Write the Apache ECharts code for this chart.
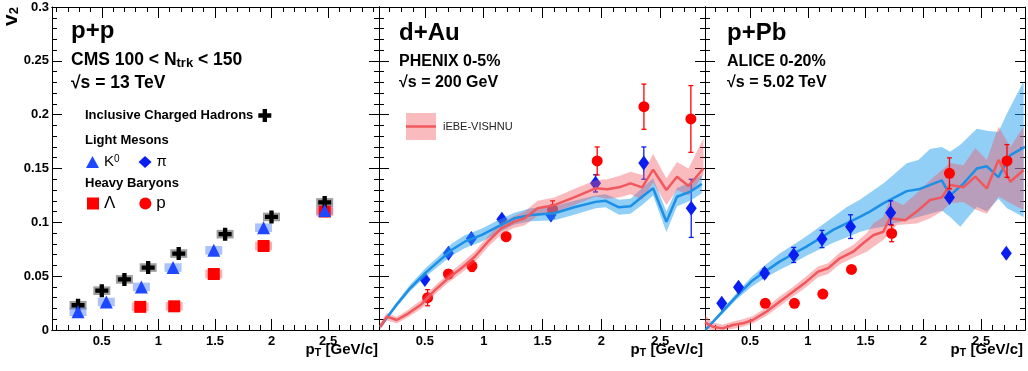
<!DOCTYPE html>
<html>
<head>
<meta charset="utf-8">
<script src="https://cdn.jsdelivr.net/npm/echarts@6/dist/echarts.min.js"></script>
<style>
  html, body { margin: 0; padding: 0; background: #fff; }
  #chart { width: 1028px; height: 371px; }
</style>
</head>
<body>
<div id="chart"></div>
<script>
// tick values for the pT axes
const xMajorTicks = [0.5, 1, 1.5, 2, 2.5];
const xMinorTicks = [0.1, 0.2, 0.3, 0.4, 0.6, 0.7, 0.8, 0.9, 1.1, 1.2, 1.3, 1.4,
                     1.6, 1.7, 1.8, 1.9, 2.1, 2.2, 2.3, 2.4, 2.6, 2.7, 2.8, 2.9];

// p+p, CMS 100 < Ntrk < 150
const ppHadPt = [0.29, 0.50, 0.70, 0.91, 1.18, 1.59, 2.00, 2.47];
const ppHadV  = [0.023, 0.0365, 0.047, 0.058, 0.071, 0.089, 0.105, 0.1185];
const ppK0Pt  = [0.29, 0.54, 0.85, 1.13, 1.49, 1.93, 2.47];
const ppK0V   = [0.017, 0.026, 0.040, 0.058, 0.074, 0.095, 0.111];
const ppLamPt = [0.84, 1.14, 1.49, 1.93, 2.47];
const ppLamV  = [0.0215, 0.022, 0.052, 0.078, 0.110];

// d+Au, PHENIX 0-5%
const dauPiPt  = [0.50, 0.70, 0.895, 1.154, 1.571, 1.95, 2.36, 2.763];
const dauPiV   = [0.047, 0.0712, 0.0851, 0.1028, 0.1068, 0.1362, 0.155, 0.113];
const dauPiErr = [0.002, 0.002, 0.002, 0.002, 0.003, 0.008, 0.015, 0.027];
const dauPPt   = [0.523, 0.70, 0.90, 1.19, 1.585, 1.964, 2.361, 2.76];
const dauPV    = [0.030, 0.052, 0.0594, 0.0867, 0.112, 0.157, 0.2074, 0.196];
const dauPErr  = [0.0075, 0.004, 0.005, 0.004, 0.008, 0.013, 0.021, 0.031];

// d+Au, iEBE-VISHNU pions
const dauModPiPt = [0.12, 0.247, 0.374, 0.50, 0.613, 0.726, 0.838, 0.98, 1.12, 1.261, 1.40, 1.60,
                    1.768, 1.95, 2.036, 2.149, 2.247, 2.346, 2.439, 2.552, 2.642, 2.755, 2.853];
const dauModPiV  = [0.003, 0.0217, 0.0387, 0.0526, 0.0635, 0.0743, 0.082, 0.0882, 0.096, 0.1037, 0.1068, 0.1084,
                    0.114, 0.119, 0.120, 0.114, 0.115, 0.1238, 0.1316, 0.1006, 0.1238, 0.1285, 0.1356];
const dauModPiLo = [0.002, 0.020, 0.036, 0.049, 0.059, 0.069, 0.076, 0.082, 0.090, 0.098, 0.101, 0.102,
                    0.107, 0.113, 0.114, 0.107, 0.108, 0.116, 0.125, 0.091, 0.115, 0.120, 0.127];
const dauModPiHi = [0.004, 0.024, 0.042, 0.057, 0.068, 0.080, 0.088, 0.094, 0.102, 0.109, 0.113, 0.115,
                    0.120, 0.125, 0.126, 0.121, 0.122, 0.132, 0.141, 0.110, 0.132, 0.137, 0.144];

// d+Au, iEBE-VISHNU protons
const dauModPPt = [0.12, 0.177, 0.261, 0.36, 0.472, 0.585, 0.697, 0.81, 0.923, 1.036, 1.149, 1.261, 1.346,
                   1.458, 1.60, 1.768, 1.95, 2.05, 2.149, 2.247, 2.346, 2.439, 2.552, 2.642, 2.74, 2.867];
const dauModPV  = [0.003, 0.0124, 0.0093, 0.0155, 0.024, 0.037, 0.048, 0.0573, 0.068, 0.082, 0.0944, 0.1006, 0.1037,
                   0.113, 0.116, 0.1232, 0.1316, 0.1307, 0.1325, 0.1362, 0.1325, 0.149, 0.130, 0.1424, 0.1337, 0.150];
const dauModPLo = [0.000, 0.009, 0.006, 0.012, 0.020, 0.033, 0.044, 0.053, 0.063, 0.077, 0.089, 0.095, 0.097,
                   0.106, 0.109, 0.116, 0.124, 0.122, 0.123, 0.126, 0.121, 0.137, 0.116, 0.130, 0.125, 0.144];
const dauModPHi = [0.006, 0.016, 0.012, 0.019, 0.028, 0.041, 0.052, 0.062, 0.073, 0.087, 0.100, 0.106, 0.110,
                   0.120, 0.123, 0.131, 0.139, 0.140, 0.143, 0.147, 0.144, 0.1635, 0.141, 0.156, 0.150, 0.178];

// p+Pb, ALICE 0-20%
const ppbPiPt  = [0.255, 0.40, 0.626, 0.878, 1.123, 1.37, 1.717, 2.226, 2.718];
const ppbPiV   = [0.0248, 0.0396, 0.0526, 0.0697, 0.0845, 0.096, 0.109, 0.123, 0.0712];
const ppbPiErr = [0, 0, 0.004, 0.007, 0.008, 0.011, 0.011, 0, 0];
const ppbPPt   = [0.632, 0.884, 1.13, 1.378, 1.726, 2.226, 2.724];
const ppbPV    = [0.0248, 0.0248, 0.0334, 0.0563, 0.0897, 0.1455, 0.157];
const ppbPErr  = [0, 0, 0, 0.003, 0.0077, 0.0144, 0.0152];

// p+Pb, iEBE-VISHNU pions
const ppbModPiPt = [0.114, 0.235, 0.38, 0.51, 0.626, 0.756, 0.872, 0.988, 1.103, 1.219, 1.335, 1.45,
                    1.537, 1.653, 1.856, 1.971, 2.16, 2.232, 2.347, 2.463, 2.55, 2.65, 2.753, 2.88];
const ppbModPiV  = [0.000, 0.014, 0.031, 0.045, 0.054, 0.0635, 0.0706, 0.0774, 0.085, 0.093, 0.099, 0.105,
                    0.110, 0.1176, 0.129, 0.131, 0.139, 0.125, 0.136, 0.150, 0.152, 0.142, 0.1625, 0.170];
const ppbBandPiPt = [0.114, 0.235, 0.38, 0.51, 0.626, 0.756, 0.872, 0.988, 1.103, 1.219, 1.335, 1.45, 1.55,
                     1.653, 1.74, 1.856, 1.957, 2.058, 2.16, 2.232, 2.32, 2.463, 2.55, 2.65, 2.724, 2.868];
const ppbBandPiLo = [0.000, 0.012, 0.028, 0.040, 0.048, 0.056, 0.062, 0.069, 0.075, 0.081, 0.086, 0.091, 0.094,
                     0.096, 0.099, 0.102, 0.105, 0.108, 0.111, 0.105, 0.096, 0.1145, 0.110, 0.122, 0.113, 0.105];
const ppbBandPiHi = [0.001, 0.016, 0.034, 0.049, 0.060, 0.071, 0.079, 0.087, 0.096, 0.105, 0.114, 0.121, 0.1285,
                     0.136, 0.144, 0.1548, 0.158, 0.168, 0.170, 0.1656, 0.172, 0.187, 0.185, 0.184, 0.201, 0.231];

// p+Pb, iEBE-VISHNU protons
const ppbModPPt = [0.11, 0.177, 0.264, 0.35, 0.437, 0.524, 0.64, 0.756, 0.872, 0.988, 1.089, 1.175, 1.277, 1.393, 1.479,
                   1.566, 1.653, 1.711, 1.841, 1.943, 2.058, 2.16, 2.232, 2.347, 2.449, 2.55, 2.651, 2.753, 2.868];
const ppbModPV  = [0.007, 0.003, 0.0015, 0.0046, 0.0062, 0.0093, 0.017, 0.0263, 0.0356, 0.0449, 0.0542, 0.0573, 0.0666, 0.0727, 0.0805,
                   0.088, 0.0913, 0.1037, 0.102, 0.110, 0.1207, 0.1232, 0.1347, 0.1325, 0.1424, 0.1316, 0.158, 0.1377, 0.1486];
const ppbBandPPt = [0.11, 0.177, 0.264, 0.35, 0.437, 0.524, 0.64, 0.756, 0.872, 0.988, 1.089, 1.175, 1.277, 1.393, 1.51,
                    1.566, 1.653, 1.711, 1.77, 1.826, 1.943, 2.058, 2.16, 2.232, 2.347, 2.449, 2.55, 2.651, 2.753, 2.868];
const ppbBandPLo = [0.001, 0.000, 0.000, 0.001, 0.003, 0.006, 0.013, 0.022, 0.031, 0.040, 0.049, 0.052, 0.061, 0.067, 0.0727,
                    0.077, 0.0836, 0.090, 0.0975, 0.098, 0.099, 0.1037, 0.110, 0.1177, 0.119, 0.112, 0.108, 0.124, 0.1177, 0.1115];
const ppbBandPHi = [0.014, 0.007, 0.005, 0.008, 0.010, 0.013, 0.021, 0.031, 0.040, 0.050, 0.059, 0.062, 0.072, 0.079, 0.090,
                    0.099, 0.105, 0.122, 0.119, 0.116, 0.127, 0.139, 0.1486, 0.155, 0.153, 0.169, 0.158, 0.189, 0.170, 0.189];

const FONT = '"Liberation Sans", Arial, Helvetica, sans-serif';
const RED = '#ff0000';
const BLUE = '#0a1ef2';
const TRI_BLUE = '#1d48ff';
const BAND_BLUE = 'rgba(35,160,240,0.5)';
const BAND_RED = 'rgba(242,85,95,0.4)';
const LINE_BLUE = '#1c8fe6';
const LINE_RED = '#f0585d';
const CROSS = 'path://M4,0H8V4H12V8H8V12H4V8H0V4H4Z';

const chart = echarts.init(document.getElementById('chart'), null, { renderer: 'canvas' });

const gridBoxes = [
  { left: 52, top: 7, width: 327, height: 323 },
  { left: 379, top: 7, width: 326, height: 323 },
  { left: 705, top: 7, width: 320, height: 323 }
];
const xRanges = [[0.06, 2.95], [0.11, 2.88], [0.11, 2.88]];

function xAxes(g) {
  const [min, max] = xRanges[g];
  const common = {
    type: 'value', gridIndex: g, min, max, splitLine: { show: false },
    axisLine: { show: true, onZero: false, lineStyle: { color: '#000', width: 1 } }
  };
  const tick = (vals, len) => ({
    show: true, inside: true, length: len,
    customValues: vals.filter(v => v > min && v < max),
    lineStyle: { color: '#000', width: 1 }
  });
  return [
    Object.assign({}, common, {
      position: 'bottom', axisTick: tick(xMajorTicks, 11),
      axisLabel: { show: true, customValues: xMajorTicks, margin: 5, color: '#000',
                   fontFamily: FONT, fontWeight: 'bold', fontSize: 13 }
    }),
    Object.assign({}, common, { position: 'bottom', axisTick: tick(xMinorTicks, 5), axisLabel: { show: false } }),
    Object.assign({}, common, { position: 'top', axisTick: tick(xMajorTicks, 11), axisLabel: { show: false } }),
    Object.assign({}, common, { position: 'top', axisTick: tick(xMinorTicks, 5), axisLabel: { show: false } })
  ];
}

function yAxes(g) {
  const common = {
    type: 'value', gridIndex: g, min: 0, max: 0.3, interval: 0.05, splitLine: { show: false },
    axisLine: { show: true, onZero: false, lineStyle: { color: '#000', width: 1 } },
    axisTick: { show: true, inside: true, length: 10, lineStyle: { color: '#000' } },
    minorTick: { show: true, splitNumber: 5, length: 5, lineStyle: { color: '#000' } }
  };
  return [
    Object.assign({}, common, {
      position: 'left',
      axisLabel: { show: g === 0, margin: 3, color: '#000', fontFamily: FONT, fontWeight: 'bold', fontSize: 13 }
    }),
    Object.assign({}, common, { position: 'right', axisLabel: { show: false } })
  ];
}

function pairs(xs, ys) { return xs.map((x, i) => [x, ys[i]]); }

function scatter(name, xs, ys, symbol, size, color, g, z) {
  return {
    type: 'scatter', name, xAxisIndex: 4 * g, yAxisIndex: 2 * g, data: pairs(xs, ys),
    symbol, symbolSize: size, itemStyle: { color, opacity: 1 }, z, silent: true
  };
}

function errRender(params, api) {
  const x = api.value(0), lo = api.value(1), hi = api.value(2);
  if (!(hi > lo)) return null;
  const a = api.coord([x, hi]), b = api.coord([x, lo]);
  const st = { stroke: api.visual('color'), lineWidth: 1.3 };
  return {
    type: 'group', children: [
      { type: 'line', shape: { x1: a[0], y1: a[1], x2: b[0], y2: b[1] }, style: st },
      { type: 'line', shape: { x1: a[0] - 2.5, y1: a[1], x2: a[0] + 2.5, y2: a[1] }, style: st },
      { type: 'line', shape: { x1: b[0] - 2.5, y1: b[1], x2: b[0] + 2.5, y2: b[1] }, style: st }
    ]
  };
}

function errors(name, xs, ys, es, color, g, z) {
  return {
    type: 'custom', name: name + ' stat', xAxisIndex: 4 * g, yAxisIndex: 2 * g,
    data: xs.map((x, i) => [x, ys[i] - es[i], ys[i] + es[i]]),
    encode: { x: 0, y: [1, 2] }, renderItem: errRender, itemStyle: { color }, z, silent: true
  };
}

function sysBoxes(name, xs, ys, color, z) {
  const dx = 0.075, dy = 0.004;
  return {
    type: 'custom', name: name + ' sys', xAxisIndex: 0, yAxisIndex: 0, data: pairs(xs, ys),
    encode: { x: 0, y: 1 }, itemStyle: { color }, z, silent: true,
    renderItem: (params, api) => {
      const a = api.coord([api.value(0) - dx, api.value(1) + dy]);
      const b = api.coord([api.value(0) + dx, api.value(1) - dy]);
      return { type: 'rect', shape: { x: a[0], y: a[1], width: b[0] - a[0], height: b[1] - a[1] },
               style: { fill: api.visual('color') } };
    }
  };
}

// model uncertainty band: one polygon, upper edge forward then lower edge back
function band(id, xs, lo, hi, color, g, z) {
  return {
    type: 'custom', name: id, xAxisIndex: 4 * g, yAxisIndex: 2 * g,
    data: xs.map((x, i) => [x, lo[i], hi[i]]), encode: { x: 0, y: [1, 2] },
    itemStyle: { color }, z, silent: true, clip: true,
    renderItem: (params, api) => {
      if (params.dataIndex !== 0) return null;
      const up = xs.map((x, i) => api.coord([x, hi[i]]));
      const dn = xs.map((x, i) => api.coord([x, lo[i]])).reverse();
      return { type: 'polygon', shape: { points: up.concat(dn) }, style: { fill: api.visual('color') } };
    }
  };
}

function model(id, xs, ys, color, g, z) {
  return { type: 'line', name: id, xAxisIndex: 4 * g, yAxisIndex: 2 * g, data: pairs(xs, ys),
           symbol: 'none', lineStyle: { color, width: 2.5 }, z, silent: true };
}

const series = [
  // p+p
  sysBoxes('hadrons', ppHadPt, ppHadV, 'rgba(80,80,80,0.55)', 1),
  sysBoxes('K0', ppK0Pt, ppK0V, 'rgba(70,120,240,0.45)', 1),
  sysBoxes('Lambda', ppLamPt, ppLamV, 'rgba(255,60,60,0.4)', 1),
  scatter('Λ', ppLamPt, ppLamV, 'rect', 12, RED, 0, 2),
  scatter('Inclusive Charged Hadrons', ppHadPt, ppHadV, CROSS, 13, '#000', 0, 2),
  scatter('K0', ppK0Pt, ppK0V, 'triangle', 13, TRI_BLUE, 0, 2),
  // d+Au: points below the model bands
  errors('π dAu', dauPiPt, dauPiV, dauPiErr, BLUE, 1, 1),
  scatter('π', dauPiPt, dauPiV, 'diamond', [11, 15], BLUE, 1, 1),
  errors('p dAu', dauPPt, dauPV, dauPErr, RED, 1, 1),
  scatter('p', dauPPt, dauPV, 'circle', 11, RED, 1, 1),
  band('vishnu-pi-dau', dauModPiPt, dauModPiLo, dauModPiHi, BAND_BLUE, 1, 2),
  model('iEBE-VISHNU π dAu', dauModPiPt, dauModPiV, LINE_BLUE, 1, 2),
  band('vishnu-p-dau', dauModPPt, dauModPLo, dauModPHi, BAND_RED, 1, 2),
  model('iEBE-VISHNU p dAu', dauModPPt, dauModPV, LINE_RED, 1, 2),
  // p+Pb
  band('vishnu-pi-ppb', ppbBandPiPt, ppbBandPiLo, ppbBandPiHi, BAND_BLUE, 2, 2),
  model('iEBE-VISHNU π pPb', ppbModPiPt, ppbModPiV, LINE_BLUE, 2, 2),
  band('vishnu-p-ppb', ppbBandPPt, ppbBandPLo, ppbBandPHi, BAND_RED, 2, 2),
  model('iEBE-VISHNU p pPb', ppbModPPt, ppbModPV, LINE_RED, 2, 2),
  errors('π pPb', ppbPiPt, ppbPiV, ppbPiErr, BLUE, 2, 3),
  scatter('π', ppbPiPt, ppbPiV, 'diamond', [11, 15], BLUE, 2, 3),
  errors('p pPb', ppbPPt, ppbPV, ppbPErr, RED, 2, 3),
  scatter('p', ppbPPt, ppbPV, 'circle', 11, RED, 2, 3)
];

function label(x, y, text, size, weight, extra) {
  return {
    type: 'text', x, y, z: 50, silent: true,
    style: Object.assign({ text, fill: '#000', fontFamily: FONT, fontSize: size, fontWeight: weight,
                           textAlign: 'left', textVerticalAlign: 'middle' }, extra || {})
  };
}

const subRich = {
  b: { fontFamily: FONT, fontSize: 17.5, fontWeight: 'bold', lineHeight: 19, color: '#000' },
  s: { fontFamily: FONT, fontSize: 13, fontWeight: 'bold', lineHeight: 13, color: '#000',
       verticalAlign: 'bottom', padding: [13, 0, 0, 0] }
};
const ptRich = {
  b: { fontFamily: FONT, fontSize: 15, fontWeight: 'bold', lineHeight: 17, color: '#000' },
  s: { fontFamily: FONT, fontSize: 11, fontWeight: 'bold', lineHeight: 11, color: '#000',
       verticalAlign: 'bottom', padding: [24, 0, 0, 0] }
};
const ptTitle = x => label(x, 350, '{b|p}{s|T}{b| [GeV/c]}', 15, 'bold', { rich: ptRich, textAlign: 'right' });

const graphics = [
  {
    type: 'text', x: 11.5, y: 26, rotation: Math.PI / 2, z: 50, silent: true,
    style: {
      text: '{v|v}{s|2}', textAlign: 'left', textVerticalAlign: 'middle',
      rich: {
        v: { fontFamily: FONT, fontSize: 21, fontWeight: 'bold', lineHeight: 21, color: '#000' },
        s: { fontFamily: FONT, fontSize: 13, fontWeight: 'bold', lineHeight: 13, color: '#000', padding: [5, 0, 0, 0] }
      }
    }
  },
  label(71, 31, 'p+p', 24, 'bold'),
  label(71, 60, '{b|CMS 100 < N}{s|trk}{b| < 150}', 17.5, 'bold', { rich: subRich }),
  label(71, 83, '√s = 13 TeV', 17.5, 'bold'),
  label(85, 140, 'Light Mesons', 13, 'bold'),
  label(85, 183, 'Heavy Baryons', 13, 'bold'),
  label(399, 33, 'd+Au', 24, 'bold'),
  label(399, 62, 'PHENIX 0-5%', 16, 'bold'),
  label(399, 83, '√s = 200 GeV', 16, 'bold'),
  { type: 'rect', z: 50, silent: true, shape: { x: 406, y: 113, width: 30, height: 27 }, style: { fill: BAND_RED } },
  { type: 'line', z: 51, silent: true, shape: { x1: 406, y1: 126.5, x2: 436, y2: 126.5 }, style: { stroke: LINE_RED, lineWidth: 2.5 } },
  label(443, 127, 'iEBE-VISHNU', 11, 'normal', { fill: '#222' }),
  label(727, 33, 'p+Pb', 24, 'bold'),
  label(727, 62, 'ALICE 0-20%', 16, 'bold'),
  label(727, 83, '√s = 5.02 TeV', 16, 'bold'),
  ptTitle(378), ptTitle(703), ptTitle(1023)
];

const legendText = { fontFamily: FONT, color: '#000' };
const option = {
  animation: false,
  backgroundColor: '#fff',
  grid: gridBoxes.map(b => Object.assign({ containLabel: false, outerBoundsMode: 'none' }, b)),
  xAxis: [0, 1, 2].flatMap(xAxes),
  yAxis: [0, 1, 2].flatMap(yAxes),
  legend: [
    {
      data: ['Inclusive Charged Hadrons'], left: 85, top: 109, align: 'right', padding: 0,
      itemWidth: 13, itemHeight: 13, selectedMode: false,
      textStyle: Object.assign({ fontSize: 13, fontWeight: 'bold' }, legendText)
    },
    {
      data: ['K0', 'π'], left: 86, top: 154, padding: 0, itemGap: 19,
      itemWidth: 13, itemHeight: 12, selectedMode: false,
      formatter: n => n === 'K0' ? '{n|K}{sup|0}' : '{n|' + n + '}',
      textStyle: Object.assign({
        rich: {
          n: { fontFamily: FONT, fontSize: 15, lineHeight: 16, color: '#000' },
          sup: { fontFamily: FONT, fontSize: 10, lineHeight: 10, color: '#000', verticalAlign: 'top' }
        }
      }, legendText)
    },
    {
      data: ['Λ', 'p'], left: 87, top: 195, padding: 0, itemGap: 24,
      itemWidth: 12, itemHeight: 12, selectedMode: false,
      textStyle: Object.assign({ fontSize: 17 }, legendText)
    }
  ],
  graphic: graphics,
  series
};

chart.setOption(option);
window.addEventListener('resize', () => chart.resize());
</script>
</body>
</html>
